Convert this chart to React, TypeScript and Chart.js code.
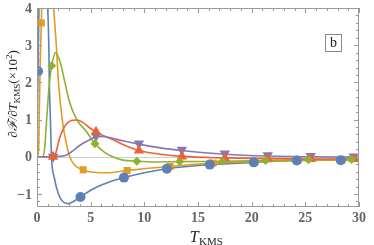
import { useEffect, useRef } from "react";
import { Chart, registerables } from "chart.js";
Chart.register(...registerables);

// ---- data ----
const blueCurveT = [0, 0.05, 0.1, 0.15, 0.25, 0.5, 0.8, 1.0, 1.1, 1.15, 1.25, 1.35, 1.6, 2.0, 2.4, 2.9, 3.4, 4.05, 5, 6, 7, 8.1, 10, 12.1, 14, 16.1, 20.2, 24.2, 28.3, 30];
const blueCurveV = [0, 1.5, 2.3, 3.5, 5, 6, 5.5, 4, 3, 2, 1, 0, -0.55, -1.0, -1.2, -1.26, -1.2, -1.08, -0.9, -0.76, -0.65, -0.56, -0.43, -0.32, -0.26, -0.21, -0.15, -0.1, -0.09, -0.08];
const blueMarkT = [0.1, 4.05, 8.1, 12.1, 16.1, 20.2, 24.2, 28.3];
const blueMarkV = [2.3, -1.08, -0.56, -0.32, -0.21, -0.15, -0.1, -0.09];

const orangeCurveT = [0, 0.15, 0.2, 0.3, 0.4, 0.5, 0.9, 1.3, 1.55, 1.8, 2.0, 2.35, 2.7, 3.05, 3.5, 4.3, 5, 6.5, 8.4, 10.4, 12.4, 16.4, 20.3, 24.3, 28.4, 30];
const orangeCurveV = [0, 0.2, 1, 2.5, 3.6, 4.6, 6, 5.2, 4, 3, 2, 1, 0.4, 0, -0.22, -0.35, -0.41, -0.43, -0.37, -0.31, -0.26, -0.17, -0.13, -0.1, -0.09, -0.08];
const orangeMarkT = [0.4, 4.3, 8.4, 12.4, 16.4, 20.3, 24.3, 28.4];
const orangeMarkV = [3.6, -0.35, -0.37, -0.26, -0.17, -0.13, -0.1, -0.09];

const greenCurveT = [0, 0.5, 0.7, 0.9, 1.1, 1.37, 1.75, 2.2, 2.6, 3.0, 3.7, 4.6, 5.4, 6.3, 7.2, 8, 9.3, 11, 13.3, 17.3, 21.3, 25.3, 29.3, 30];
const greenCurveV = [0, 0, 0.2, 1, 1.8, 2.45, 2.8, 2.5, 2.0, 1.5, 1.0, 0.68, 0.35, 0.12, -0.02, -0.09, -0.12, -0.14, -0.13, -0.12, -0.1, -0.08, -0.07, -0.07];
const greenMarkT = [1.37, 5.4, 9.3, 13.3, 17.3, 21.3, 25.3, 29.3];
const greenMarkV = [2.45, 0.35, -0.12, -0.13, -0.12, -0.1, -0.08, -0.07];

const redCurveT = [0, 1.5, 1.7, 2.1, 2.7, 3.7, 4.3, 4.9, 5.5, 6.3, 7.1, 8, 9.5, 11.5, 13.5, 17.5, 21.5, 25.5, 29.5, 30];
const redCurveV = [0, 0, 0.05, 0.5, 0.87, 0.99, 0.92, 0.78, 0.67, 0.55, 0.46, 0.33, 0.17, 0.07, 0.01, -0.03, -0.05, -0.06, -0.06, -0.06];
const redMarkT = [1.5, 5.5, 9.5, 13.5, 17.5, 21.5, 25.5, 29.5];
const redMarkV = [0, 0.67, 0.17, 0.01, -0.03, -0.05, -0.06, -0.06];

const purpleCurveT = [0, 1.5, 2.0, 2.7, 3.3, 4.0, 4.9, 5.5, 6.0, 7.0, 8.0, 9.5, 11.5, 13.5, 17.5, 21.5, 25.5, 29.5, 30];
const purpleCurveV = [0, 0, 0.01, 0.04, 0.15, 0.31, 0.46, 0.53, 0.55, 0.5, 0.43, 0.34, 0.24, 0.17, 0.07, 0.02, 0, -0.01, -0.01];
const purpleMarkT = [1.5, 5.5, 9.5, 13.5, 17.5, 21.5, 25.5, 29.5];
const purpleMarkV = [0, 0.56, 0.36, 0.19, 0.09, 0.04, 0.02, 0.01];

const xTickLabels = [0, 5, 10, 15, 20, 25, 30];
const yTickLabels = [-1, 0, 1, 2, 3, 4];

const BLUE = "#5E81B5";
const ORANGE = "#E19C24";
const GREEN = "#8FB131";
const RED = "#EB6235";
const PURPLE = "#8778B3";

const pts = (t: number[], v: number[]) => t.map((x, i) => ({ x, y: v[i] }));

const curve = (t: number[], v: number[], color: string, order: number) => ({
  data: pts(t, v),
  borderColor: color,
  backgroundColor: color,
  borderWidth: 1.6,
  pointRadius: 0,
  cubicInterpolationMode: "monotone" as const,
  order,
});

const marks = (t: number[], v: number[], color: string, style: string, radius: number, rotation: number) => ({
  data: pts(t, v),
  showLine: false,
  borderColor: color,
  backgroundColor: color,
  borderWidth: 0,
  pointStyle: style,
  pointRadius: radius,
  pointRotation: rotation,
  order: 0,
});

const serif = '"Liberation Serif", "DejaVu Serif", serif';

const framePlugin = {
  id: "mmaFrame",
  beforeDatasetsDraw(chart: any) {
    const { ctx, chartArea, scales } = chart;
    const { left, right } = chartArea;
    const y0 = Math.round(scales.y.getPixelForValue(0)) + 0.5;
    ctx.save();
    ctx.strokeStyle = "#cccccc";
    ctx.lineWidth = 1;
    ctx.beginPath();
    ctx.moveTo(left, y0);
    ctx.lineTo(right, y0);
    ctx.stroke();
    ctx.restore();
  },
  afterDraw(chart: any) {
    const { ctx, chartArea, scales } = chart;
    const { left, right, top, bottom } = chartArea;
    const xs = scales.x;
    const ys = scales.y;
    ctx.save();
    ctx.strokeStyle = "#9a9a9a";
    ctx.lineWidth = 1;
    ctx.strokeRect(Math.round(left) + 0.5, Math.round(top) + 0.5, Math.round(right - left) - 1, Math.round(bottom - top) - 1);

    // x ticks (bottom & top)
    ctx.beginPath();
    for (let i = 0; i <= 30; i++) {
      const px = Math.round(xs.getPixelForValue(i)) + 0.5;
      const len = i % 5 === 0 ? 5 : 3;
      ctx.moveTo(px, bottom);
      ctx.lineTo(px, bottom - len);
      ctx.moveTo(px, top);
      ctx.lineTo(px, top + len);
    }
    // y ticks (left & right)
    for (let k = -6; k <= 20; k++) {
      const v = k * 0.2;
      if (v < -1.35 || v > 4.001) continue;
      const py = Math.round(ys.getPixelForValue(v)) + 0.5;
      const len = k % 5 === 0 ? 5 : 3;
      ctx.moveTo(left, py);
      ctx.lineTo(left + len, py);
      ctx.moveTo(right, py);
      ctx.lineTo(right - len, py);
    }
    ctx.stroke();

    // tick labels
    ctx.fillStyle = "#666666";
    ctx.font = `bold 14px ${serif}`;
    ctx.textAlign = "center";
    ctx.textBaseline = "alphabetic";
    xTickLabels.forEach((v) => {
      ctx.fillText(String(v), xs.getPixelForValue(v), 222);
    });
    ctx.textAlign = "right";
    ctx.textBaseline = "middle";
    yTickLabels.forEach((v) => {
      const s = v < 0 ? "\u2212" + Math.abs(v) : String(v);
      ctx.fillText(s, 32, ys.getPixelForValue(v) + 1);
    });

    // x title: T_KMS
    ctx.fillStyle = "#222222";
    ctx.textBaseline = "alphabetic";
    ctx.textAlign = "left";
    const fT = `italic 16px ${serif}`;
    const fSub = `11px ${serif}`;
    ctx.font = fT;
    const wT = ctx.measureText("T").width;
    ctx.font = fSub;
    const wK = ctx.measureText("KMS").width;
    const x0 = 206 - (wT + wK) / 2;
    ctx.font = fT;
    ctx.fillText("T", x0, 242);
    ctx.font = fSub;
    ctx.fillText("KMS", x0 + wT + 0.5, 245);

    // y title, rotated
    const pieces = [
      { t: "\u2202\u2131/\u2202", f: `italic 13px ${serif}`, dy: 0 },
      { t: "T", f: `italic 13px ${serif}`, dy: 0 },
      { t: "KMS", f: `9px ${serif}`, dy: 3 },
      { t: "(\u00d710", f: `13px ${serif}`, dy: 0 },
      { t: "2", f: `9px ${serif}`, dy: -5 },
      { t: ")", f: `13px ${serif}`, dy: 0 },
    ];
    let total = 0;
    const widths = pieces.map((p) => {
      ctx.font = p.f;
      const w = ctx.measureText(p.t).width;
      total += w;
      return w;
    });
    ctx.save();
    ctx.translate(17, 94);
    ctx.rotate(-Math.PI / 2);
    let cx = -total / 2;
    pieces.forEach((p, i) => {
      ctx.font = p.f;
      ctx.fillText(p.t, cx, p.dy);
      cx += widths[i];
    });
    ctx.restore();

    // label box "b"
    ctx.fillStyle = "#ffffff";
    ctx.fillRect(325.5, 34.5, 16, 17);
    ctx.strokeStyle = "#8a8a8a";
    ctx.strokeRect(325.5, 34.5, 16, 17);
    ctx.fillStyle = "#222222";
    ctx.font = `14px ${serif}`;
    ctx.textAlign = "center";
    ctx.textBaseline = "middle";
    ctx.fillText("b", 333.5, 43.5);
    ctx.restore();
  },
};

export default function App() {
  const ref = useRef<HTMLCanvasElement | null>(null);
  useEffect(() => {
    if (!ref.current) return;
    const chart = new Chart(ref.current, {
      type: "line",
      data: {
        datasets: [
          curve(blueCurveT, blueCurveV, BLUE, 5),
          curve(orangeCurveT, orangeCurveV, ORANGE, 4),
          curve(greenCurveT, greenCurveV, GREEN, 3),
          curve(redCurveT, redCurveV, RED, 2),
          curve(purpleCurveT, purpleCurveV, PURPLE, 1),
          marks(blueMarkT, blueMarkV, BLUE, "circle", 5, 0),
          marks(orangeMarkT, orangeMarkV, ORANGE, "rect", 5, 0),
          marks(greenMarkT, greenMarkV, GREEN, "rectRot", 4.5, 0),
          marks(redMarkT, redMarkV, RED, "triangle", 6, 0),
          marks(purpleMarkT, purpleMarkV, PURPLE, "triangle", 6, 180),
        ] as any,
      },
      options: {
        animation: false,
        responsive: false,
        devicePixelRatio: 1,
        layout: { padding: { left: 37, right: 15, top: 8, bottom: 38 } },
        plugins: { legend: { display: false }, tooltip: { enabled: false } },
        events: [],
        scales: {
          x: { type: "linear", min: 0, max: 30, display: false },
          y: { type: "linear", min: -1.35, max: 4, display: false },
        },
      },
      plugins: [framePlugin],
    });
    return () => chart.destroy();
  }, []);
  return (
    <div style={{ position: "fixed", left: 0, top: 0, width: 374, height: 245, background: "#fff" }}>
      <canvas ref={ref} width={374} height={245} style={{ width: 374, height: 245, display: "block" }} />
    </div>
  );
}
